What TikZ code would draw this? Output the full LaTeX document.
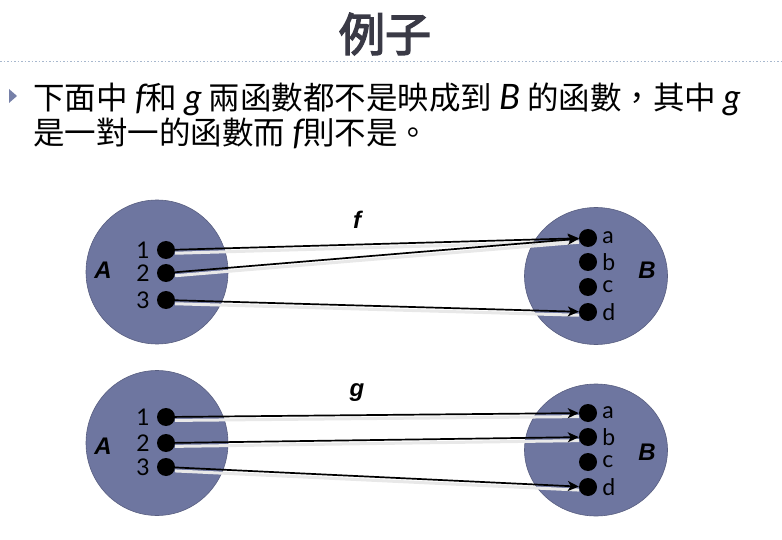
\documentclass[tikz,border=0pt]{standalone}
\usepackage{fontspec}
\setmainfont{Noto Sans CJK TC}
\newfontfamily\titlefont[FakeBold=3]{Noto Sans CJK TC}
\newfontfamily\latinfont{Lato}
\newfontfamily\figfont{Liberation Sans}
\usepackage{xcolor}
\usepackage{tikz}
\usetikzlibrary{arrows.meta,positioning,shapes.geometric}
\definecolor{setblue}{RGB}{110,118,160}
\definecolor{setedge}{RGB}{88,94,128}
\definecolor{titlegray}{RGB}{58,58,70}
\definecolor{rulecol}{RGB}{168,184,206}
\definecolor{bulletcol}{RGB}{118,128,168}
\newcommand{\vi}[1]{{\latinfont\itshape\fontsize{35}{36}\selectfont #1}}

\begin{document}
\begin{tikzpicture}[x=1pt,y=-1pt,>={Stealth[length=11pt,width=10pt,inset=3pt]},node distance=7pt]
        \tikzstyle{setdisk}=[ellipse,draw=setedge,line width=0.6pt,fill=setblue,inner sep=0pt]
        \tikzstyle{elem}=[circle,fill=black,minimum size=18pt,inner sep=0pt]
        \tikzstyle{num}=[font={\latinfont\fontsize{23}{24}\selectfont},inner sep=0pt]
        \tikzstyle{setname}=[font={\figfont\bfseries\itshape\fontsize{24}{26}\selectfont},inner sep=0pt]
        \tikzstyle{map}=[->,line width=1.7pt,preaction={draw=black!9,line width=3pt,-,transform canvas={yshift=-3.5pt}}]
        \tikzstyle{body}=[anchor=base west,inner sep=0pt,font=\fontsize{31.5}{36}\selectfont]
        \useasboundingbox (0,0) rectangle (782,540);
        % title and text
        \node[font={\titlefont\fontsize{46}{46}\selectfont},text=titlegray] (title) at (385,34) {例子};
        \draw[rulecol,line width=1pt,dash pattern=on 1.5pt off 2pt] (0,62) -- (782,62);
        \fill[bulletcol] (9,89) -- (17,96) -- (9,103) -- cycle;
        \node[body] (line1) at (33,110) {下面中 \vi{f}和 \vi{g} 兩函數都不是映成到 \vi{B} 的函數，其中 \vi{g}};
        \node[body] (line2) at (33,145) {是一對一的函數而 \vi{f}則不是。};
        % f
        \node[setdisk,minimum width=142pt,minimum height=144pt] (A1) at (157,272) {};
        \node[setdisk,minimum width=143pt,minimum height=137pt] (B1) at (596,276) {};
        \node[setname] (nA1) at (103,270) {A};
        \node[setname] (nB1) at (647,270) {B};
        \node[setname] (f) at (357,220) {f};
        \node[elem] (x11) at (166,250) {};
        \node[elem] (x12) at (166,273) {};
        \node[elem] (x13) at (166,300) {};
        \node[num,left=of x11] (l11) {1};
        \node[num,left=of x12] (l12) {2};
        \node[num,left=of x13] (l13) {3};
        \node[elem] (y1a) at (588,238) {};
        \node[elem] (y1b) at (588,262) {};
        \node[elem] (y1c) at (588,287) {};
        \node[elem] (y1d) at (588,312) {};
        \node[num,right=5pt of y1a] (r1a) {a};
        \node[num,right=5pt of y1b] (r1b) {b};
        \node[num,right=5pt of y1c] (r1c) {c};
        \node[num,right=5pt of y1d] (r1d) {d};
        \draw[map] (x11) -- (y1a);
        \draw[map] (x12) -- (y1a);
        \draw[map] (x13) -- (y1d);
        % g
        \node[setdisk,minimum width=142pt,minimum height=145pt] (A2) at (157,443) {};
        \node[setdisk,minimum width=143pt,minimum height=132pt] (B2) at (596,450) {};
        \node[setname] (nA2) at (103,446) {A};
        \node[setname] (nB2) at (647,452) {B};
        \node[setname] (g) at (357,393) {g};
        \node[elem] (x21) at (166,417) {};
        \node[elem] (x22) at (166,443) {};
        \node[elem] (x23) at (166,467) {};
        \node[num,left=of x21] (l21) {1};
        \node[num,left=of x22] (l22) {2};
        \node[num,left=of x23] (l23) {3};
        \node[elem] (y2a) at (588,413) {};
        \node[elem] (y2b) at (588,437) {};
        \node[elem] (y2c) at (588,462) {};
        \node[elem] (y2d) at (588,487) {};
        \node[num,right=5pt of y2a] (r2a) {a};
        \node[num,right=5pt of y2b] (r2b) {b};
        \node[num,right=5pt of y2c] (r2c) {c};
        \node[num,right=5pt of y2d] (r2d) {d};
        \draw[map] (x21) -- (y2a);
        \draw[map] (x22) -- (y2b);
        \draw[map] (x23) -- (y2d);
\end{tikzpicture}
\end{document}
